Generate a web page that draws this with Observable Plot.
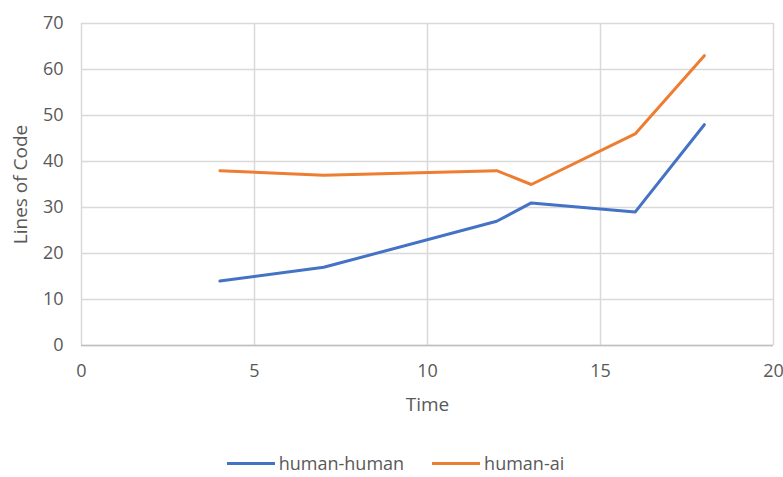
<!DOCTYPE html>
<html>
<head>
<meta charset="utf-8">
<script src="https://cdn.jsdelivr.net/npm/d3@7"></script>
<script src="https://cdn.jsdelivr.net/npm/@observablehq/plot@0.6"></script>
<style>
  html, body { margin: 0; padding: 0; background: #fff; }
  #chart { width: 783px; font-family: "Open Sans", sans-serif; }
  #chart svg text { font-size: 18px; }
  #chart svg g[aria-label$="axis label"] text { font-size: 19px; }
  .legend { display: flex; justify-content: center; align-items: center; margin-top: 21px; font-size: 18px; color: #595959; padding-left: 8px; }
  .legend .item { display: flex; align-items: center; margin: 0 14px; }
  .legend .sw { width: 48px; height: 3px; margin-right: 4px; }
</style>
</head>
<body>
<div id="chart"></div>
<script>
const times = [4, 7, 12, 13, 16, 18];
const humanHuman = [14, 17, 27, 31, 29, 48];
const humanAi = [38, 37, 38, 35, 46, 63];
const seriesNames = ["human-human", "human-ai"];
const seriesColors = ["#4472C4", "#ED7D31"];
const xTicks = [0, 5, 10, 15, 20];
const yTicks = [0, 10, 20, 30, 40, 50, 60, 70];

const data = [];
times.forEach((t, i) => data.push({time: t, value: humanHuman[i], series: seriesNames[0]}));
times.forEach((t, i) => data.push({time: t, value: humanAi[i], series: seriesNames[1]}));

const plot = Plot.plot({
  width: 783,
  height: 430,
  marginLeft: 81,
  marginRight: 10,
  marginTop: 23,
  marginBottom: 85,
  style: {fontFamily: "Open Sans, sans-serif", fontSize: "18px", color: "#595959", background: "#fff"},
  x: {domain: [0, 20]},
  y: {domain: [0, 70]},
  color: {domain: seriesNames, range: seriesColors},
  marks: [
    Plot.gridX(xTicks, {stroke: "#d9d9d9", strokeOpacity: 1, strokeWidth: 1.5}),
    Plot.gridY(yTicks, {stroke: "#d9d9d9", strokeOpacity: 1, strokeWidth: 1.5}),
    Plot.ruleY([0], {stroke: "#bfbfbf", strokeWidth: 1.5}),
    Plot.axisX(xTicks, {tickSize: 0, tickPadding: 19, fontSize: 18, label: "Time", labelAnchor: "center", labelArrow: "none", labelOffset: 65, fill: "#595959"}),
    Plot.axisY(yTicks, {tickSize: 0, tickPadding: 18, fontSize: 18, label: "Lines of Code", labelAnchor: "center", labelArrow: "none", labelOffset: 68, fill: "#595959"}),
    Plot.line(data, {x: "time", y: "value", stroke: "series", strokeWidth: 3, strokeLinejoin: "round", strokeLinecap: "round"})
  ]
});
document.getElementById("chart").appendChild(plot);

const legend = document.createElement("div");
legend.className = "legend";
seriesNames.forEach((name, i) => {
  const item = document.createElement("div");
  item.className = "item";
  const sw = document.createElement("span");
  sw.className = "sw";
  sw.style.background = seriesColors[i];
  const lab = document.createElement("span");
  lab.textContent = name;
  item.appendChild(sw);
  item.appendChild(lab);
  legend.appendChild(item);
});
document.getElementById("chart").appendChild(legend);
</script>
</body>
</html>
